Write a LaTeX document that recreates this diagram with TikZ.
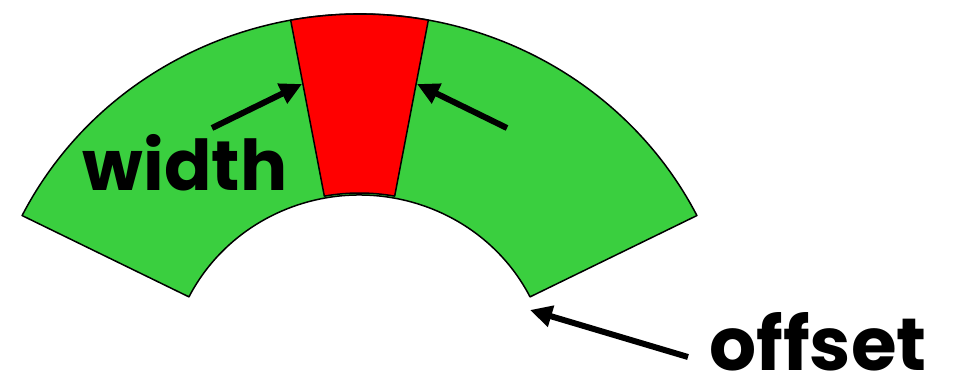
\documentclass[tikz,border=0pt]{standalone}
\usepackage{fontspec}
\setmainfont{Poppins}
\usetikzlibrary{calc,arrows.meta}
\definecolor{ringgreen}{RGB}{58,207,63}
\definecolor{slotred}{RGB}{255,0,0}
\begin{document}
\begin{tikzpicture}[x=1pt,y=-1pt,
  ring/.style={draw=black,line width=1.5pt,line join=round},
  pointer/.style={draw=black,line width=6pt,-{Triangle[length=22pt,width=21pt]}},
  lbl/.style={font=\fontsize{70}{70}\selectfont\bfseries,inner sep=0pt,anchor=base}]
\useasboundingbox (0,0) rectangle (961,378);
\coordinate (c) at (359.5,380);
% green annular sector
\path[ring,fill=ringgreen] ($(c)+(-153.3:377.7 and 366)$) coordinate (go1)
  arc[start angle=-153.3,end angle=-26.7,x radius=377.7,y radius=366] coordinate (go2)
  -- ($(c)+(-26.7:190.9 and 185)$) coordinate (gi2)
  arc[start angle=-26.7,end angle=-153.3,x radius=190.9,y radius=185] coordinate (gi1)
  -- cycle;
% red slot
\path[ring,fill=slotred] ($(c)+(-100.5:377.7 and 366)$) coordinate (ro1)
  arc[start angle=-100.5,end angle=-79.5,x radius=377.7,y radius=366] coordinate (ro2)
  -- ($(c)+(-79.5:193 and 187)$) coordinate (ri2)
  arc[start angle=-79.5,end angle=-100.5,x radius=193,y radius=187] coordinate (ri1)
  -- cycle;
% labels
\node[lbl] (width) at (185,190) {width};
\node[lbl,font=\fontsize{74}{74}\selectfont\bfseries] (offset) at (818,370) {offset};
% arrow anchors
\coordinate (wtail) at (212,128);
\coordinate (wtip) at (302,84);
\coordinate (rtail) at (507,128);
\coordinate (rtip) at (417,84);
\coordinate (otail) at (688,357);
\coordinate (otip) at (530,310);
\draw[pointer] (wtail) -- (wtip);
\draw[pointer] (rtail) -- (rtip);
\draw[pointer] (otail) -- (otip);
\end{tikzpicture}
\end{document}
